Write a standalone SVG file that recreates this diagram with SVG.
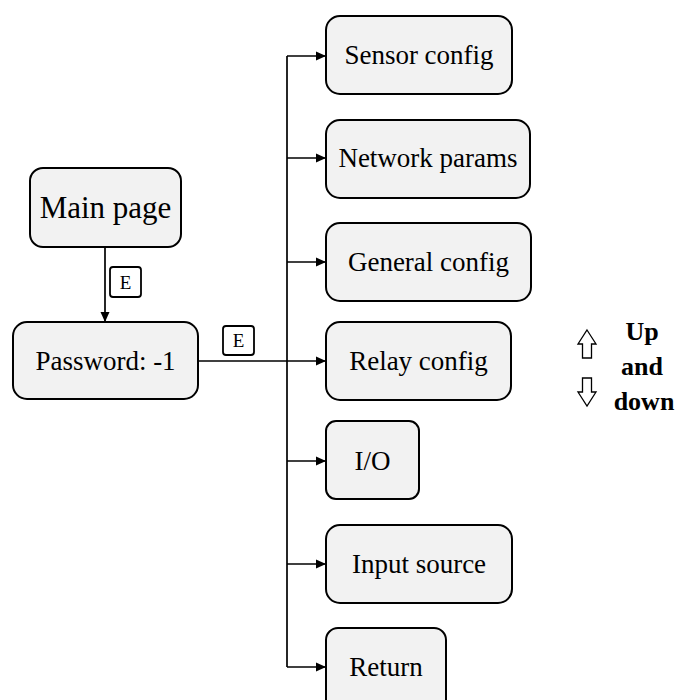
<svg xmlns="http://www.w3.org/2000/svg" width="678" height="700" viewBox="0 0 678 700" font-family="'Liberation Serif', serif">
  <style>
    .box { fill: #f2f2f2; stroke: #000; stroke-width: 2; }
    .lbl { font-family: 'Liberation Serif', serif; font-size: 27px; fill: #000; text-anchor: middle; }
    .key { fill: #fff; stroke: #000; stroke-width: 1.8; }
    .keytxt { font-family: 'Liberation Serif', serif; font-size: 19px; fill: #000; text-anchor: middle; }
    .wire { fill: none; stroke: #000; stroke-width: 1.7; }
    .side { font-family: 'Liberation Serif', serif; font-size: 26px; font-weight: bold; fill: #000; text-anchor: middle; }
    .hollow { fill: #fff; stroke: #000; stroke-width: 1.3; }
  </style>
  <defs>
    <marker id="arrow" viewBox="0 0 10 10" refX="10" refY="5" markerWidth="10" markerHeight="10" markerUnits="userSpaceOnUse" orient="auto">
      <path d="M0,0.5 L10,5 L0,9.5 z" fill="#000"/>
    </marker>
  </defs>

  <rect width="678" height="700" fill="#fff"/>

  <!-- connectors -->
  <g id="connectors">
    <path class="wire" d="M105,247 V322" marker-end="url(#arrow)"/>
    <path class="wire" d="M198,361 H287"/>
    <path class="wire" d="M287,56 V667"/>
    <path class="wire" d="M287,56 H326" marker-end="url(#arrow)"/>
    <path class="wire" d="M287,158 H326" marker-end="url(#arrow)"/>
    <path class="wire" d="M287,262 H326" marker-end="url(#arrow)"/>
    <path class="wire" d="M287,361 H326" marker-end="url(#arrow)"/>
    <path class="wire" d="M287,461 H326" marker-end="url(#arrow)"/>
    <path class="wire" d="M287,564 H326" marker-end="url(#arrow)"/>
    <path class="wire" d="M287,667 H326" marker-end="url(#arrow)"/>
    <g id="key-e1">
      <rect class="key" x="110" y="267" width="31" height="30" rx="3"/>
      <text class="keytxt" x="125.5" y="288.5">E</text>
    </g>
    <g id="key-e2">
      <rect class="key" x="223" y="326" width="31" height="29" rx="3"/>
      <text class="keytxt" x="238.5" y="347">E</text>
    </g>
  </g>

  <g id="main-page">
    <rect class="box" x="30" y="168" width="151" height="79" rx="13"/>
    <text class="lbl" x="105.5" y="218" style="font-size:31px">Main page</text>
  </g>

  <g id="password">
    <rect class="box" x="13" y="322" width="185" height="77" rx="14"/>
    <text class="lbl" x="105.5" y="370">Password: -1</text>
  </g>

  <g id="sensor-config">
    <rect class="box" x="326" y="16" width="186" height="78" rx="14"/>
    <text class="lbl" x="419" y="64">Sensor config</text>
  </g>

  <g id="network-params">
    <rect class="box" x="326" y="120" width="204" height="78" rx="14"/>
    <text class="lbl" x="428" y="167">Network params</text>
  </g>

  <g id="general-config">
    <rect class="box" x="326" y="223" width="205" height="78" rx="14"/>
    <text class="lbl" x="428.5" y="271">General config</text>
  </g>

  <g id="relay-config">
    <rect class="box" x="326" y="322" width="185" height="78" rx="14"/>
    <text class="lbl" x="418.5" y="370">Relay config</text>
  </g>

  <g id="io">
    <rect class="box" x="326" y="421" width="93" height="78" rx="10"/>
    <text class="lbl" x="372.5" y="470">I/O</text>
  </g>

  <g id="input-source">
    <rect class="box" x="326" y="525" width="186" height="78" rx="14"/>
    <text class="lbl" x="419" y="573">Input source</text>
  </g>

  <g id="return">
    <rect class="box" x="326" y="628" width="120" height="90" rx="12"/>
    <text class="lbl" x="386" y="676">Return</text>
  </g>

  <!-- navigation hint -->
  <g id="up-down">
    <path class="hollow" d="M587,330 L596,344 L591.5,344 L591.5,358 L582.5,358 L582.5,344 L578,344 Z"/>
    <path class="hollow" d="M582.5,378 L591.5,378 L591.5,392 L596,392 L587,406 L578,392 L582.5,392 Z"/>
    <text class="side" x="642" y="340">Up</text>
    <text class="side" x="642" y="375">and</text>
    <text class="side" x="644" y="410">down</text>
  </g>
</svg>
